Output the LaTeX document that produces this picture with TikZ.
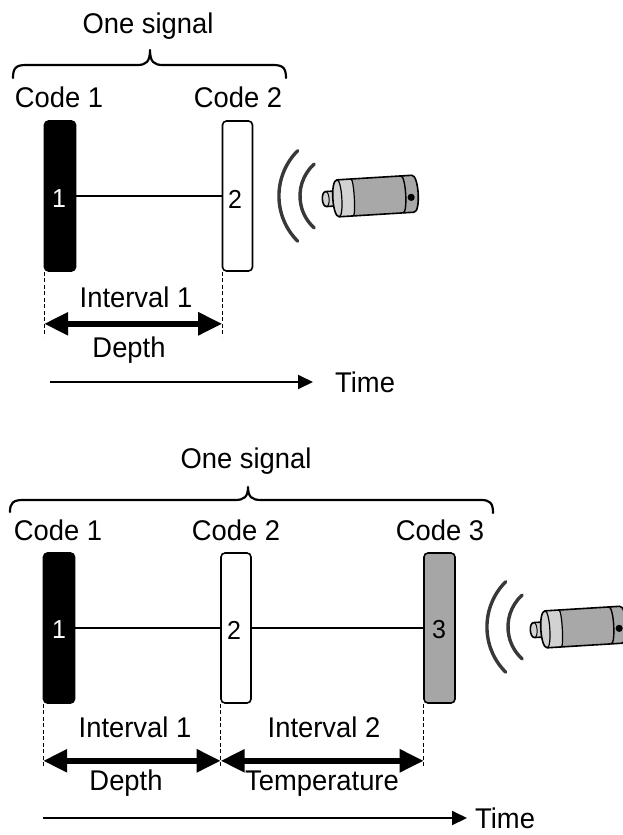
\documentclass[tikz,border=0pt]{standalone}
\usepackage{fontspec}
\setmainfont{Liberation Sans}
\newfontfamily\lblfont[FakeStretch=0.96]{Liberation Sans}
\usetikzlibrary{arrows.meta}
\definecolor{codegray}{HTML}{A6A6A6}
\definecolor{bodygray}{HTML}{A8A8A8}
\definecolor{ringgray}{HTML}{D2D2D2}
\definecolor{wavegray}{HTML}{383838}
\tikzset{
 lbl/.style={font=\lblfont\fontsize{28.5}{33}\selectfont, inner sep=0pt, anchor=base},
 digit/.style={font=\lblfont\fontsize{26}{30}\selectfont, inner sep=0pt},
 codebox/.style={draw=black, line width=1.6pt, rounded corners=4pt, minimum height=150pt, inner sep=0pt},
 link/.style={line width=2pt},
 guide/.style={line width=1.4pt, dash pattern=on 4pt off 2.5pt},
 interval/.style={line width=5.5pt, {Triangle[length=24pt,width=22pt]}-{Triangle[length=24pt,width=22pt]}},
 timeline/.style={line width=2pt, -{Triangle[length=15pt,width=14pt]}},
 bracestyle/.style={line width=2.2pt, line cap=round, line join=round},
 wave/.style={line width=3.4pt, draw=wavegray, line cap=round},
 txline/.style={draw=black, line width=1.6pt, line join=round},
 transmitter/.pic={
  \draw[wave] (-78.3,-45.3) arc[start angle=135,end angle=225,radius=64pt];
  \draw[wave] (-61.8,-32.0) arc[start angle=132,end angle=228,radius=43pt];
  \begin{scope}[rotate=3.5]
   \path[txline, fill=ringgray] (-33,-7.5) -- (-50,-7.5) .. controls (-55,-7.5) and (-55,7.5) .. (-50,7.5) -- (-33,7.5) -- cycle;
   \draw[line width=1pt] (-50,-7.5) .. controls (-46,-7.5) and (-46,7.5) .. (-50,7.5);
   \fill[bodygray] (-38,-18.5) -- (37,-18.5) .. controls (44,-18.5) and (44,18.5) .. (37,18.5) -- (-38,18.5) .. controls (-45,18.5) and (-45,-18.5) .. (-38,-18.5) -- cycle;
   \fill[ringgray] (-24,-18.5) -- (-38,-18.5) .. controls (-45,-18.5) and (-45,18.5) .. (-38,18.5) -- (-24,18.5) .. controls (-21,18.5) and (-21,-18.5) .. (-24,-18.5) -- cycle;
   \draw[txline] (-38,-18.5) -- (37,-18.5) .. controls (44,-18.5) and (44,18.5) .. (37,18.5) -- (-38,18.5) .. controls (-45,18.5) and (-45,-18.5) .. (-38,-18.5) -- cycle;
   \draw[line width=1.2pt] (-24,-18.5) .. controls (-21,-18.5) and (-21,18.5) .. (-24,18.5);
   \draw[line width=1.2pt] (-38,-18.5) .. controls (-33,-18.5) and (-33,18.5) .. (-38,18.5);
   \draw[line width=1.4pt] (26,-18.5) .. controls (31,-18.5) and (31,18.5) .. (26,18.5);
   \fill[black] (35,3.5) circle[radius=3.6pt];
  \end{scope}
 }
}
\begin{document}
\begin{tikzpicture}[x=1pt,y=-1pt]
\useasboundingbox (0,0) rectangle (623,835);
\clip (0,0) rectangle (623,835);

% ---------------- top panel ----------------
\node[lbl] (sig1) at (148,33) {One signal};
\draw[bracestyle] (13,78) .. controls (13,68) and (16,65) .. (26,65) -- (137,65) .. controls (146,65) and (150,62) .. (150,50) .. controls (150,62) and (154,65) .. (163,65) -- (273,65) .. controls (283,65) and (286,68) .. (286,78);
\node[lbl] (c1a) at (59,107) {Code 1};
\node[lbl] (c2a) at (238,107) {Code 2};
\node[codebox, fill=black, minimum width=31pt] (b1a) at (60,196) {};
\node[codebox, fill=white, minimum width=30pt] (b2a) at (237.5,196) {};
\draw[link] (b1a.east) -- (b2a.west);
\node[digit, text=white] (n1a) at (59,199) {1};
\node[digit] (n2a) at (235,199) {2};
\coordinate (g1a) at ([xshift=0.5pt]b1a.south west);
\coordinate (g2a) at ([xshift=0.5pt]b2a.south west);
\draw[guide] (g1a) -- ++(0,65) coordinate (e1a);
\draw[guide] (g2a) -- ++(0,65) coordinate (e2a);
\coordinate (a1a) at ([yshift=13pt]e1a);
\coordinate (a2a) at ([yshift=13pt]e2a);
\draw[interval] (a1a) -- (a2a);
\node[lbl] (iv1a) at (136,307) {Interval 1};
\node[lbl] (dp1a) at (129,357) {Depth};
\coordinate (ts1) at (50,382);
\coordinate (te1) at (313,382);
\draw[timeline] (ts1) -- (te1);
\node[lbl, anchor=base west] (tm1) at (335,392) {Time};
\pic at (376,196) {transmitter};

% ---------------- bottom panel ----------------
\node[lbl] (sig2) at (246,468) {One signal};
\draw[bracestyle] (10,512) .. controls (10,503) and (13,500) .. (23,500) -- (235,500) .. controls (244,500) and (248,497) .. (248,487) .. controls (248,497) and (252,500) .. (261,500) -- (481,500) .. controls (490,500) and (493,503) .. (493,513);
\node[lbl] (c1b) at (58,540) {Code 1};
\node[lbl] (c2b) at (236,540) {Code 2};
\node[lbl] (c3b) at (440,540) {Code 3};
\node[codebox, fill=black, minimum width=31pt] (b1b) at (59,628) {};
\node[codebox, fill=white, minimum width=30pt] (b2b) at (236,628) {};
\node[codebox, fill=codegray, minimum width=31pt] (b3b) at (439.5,628) {};
\draw[link] (b1b.east) -- (b2b.west);
\draw[link] (b2b.east) -- (b3b.west);
\node[digit, text=white] (n1b) at (59,630) {1};
\node[digit] (n2b) at (234,630) {2};
\node[digit] (n3b) at (439,630) {3};
\coordinate (g1b) at ([xshift=0.5pt]b1b.south west);
\coordinate (g2b) at ([xshift=0.5pt]b2b.south west);
\coordinate (g3b) at ([xshift=0.5pt]b3b.south west);
\draw[guide] (g1b) -- ++(0,64) coordinate (e1b);
\draw[guide] (g2b) -- ++(0,64) coordinate (e2b);
\draw[guide] (g3b) -- ++(0,64) coordinate (e3b);
\coordinate (a1b) at ([yshift=7pt]e1b);
\coordinate (a2b) at ([yshift=7pt]e2b);
\coordinate (a3b) at ([yshift=7pt]e3b);
\draw[interval] (a1b) -- (a2b);
\draw[interval] (a2b) -- (a3b);
\node[lbl] (iv1b) at (135,737) {Interval 1};
\node[lbl] (iv2b) at (324,737) {Interval 2};
\node[lbl] (dp1b) at (126,790) {Depth};
\node[lbl] (tp2b) at (322,790) {Temperature};
\coordinate (ts2) at (43,818);
\coordinate (te2) at (467,818);
\draw[timeline] (ts2) -- (te2);
\node[lbl, anchor=base west] (tm2) at (475,828) {Time};
\pic at (584,627) {transmitter};
\end{tikzpicture}
\end{document}
